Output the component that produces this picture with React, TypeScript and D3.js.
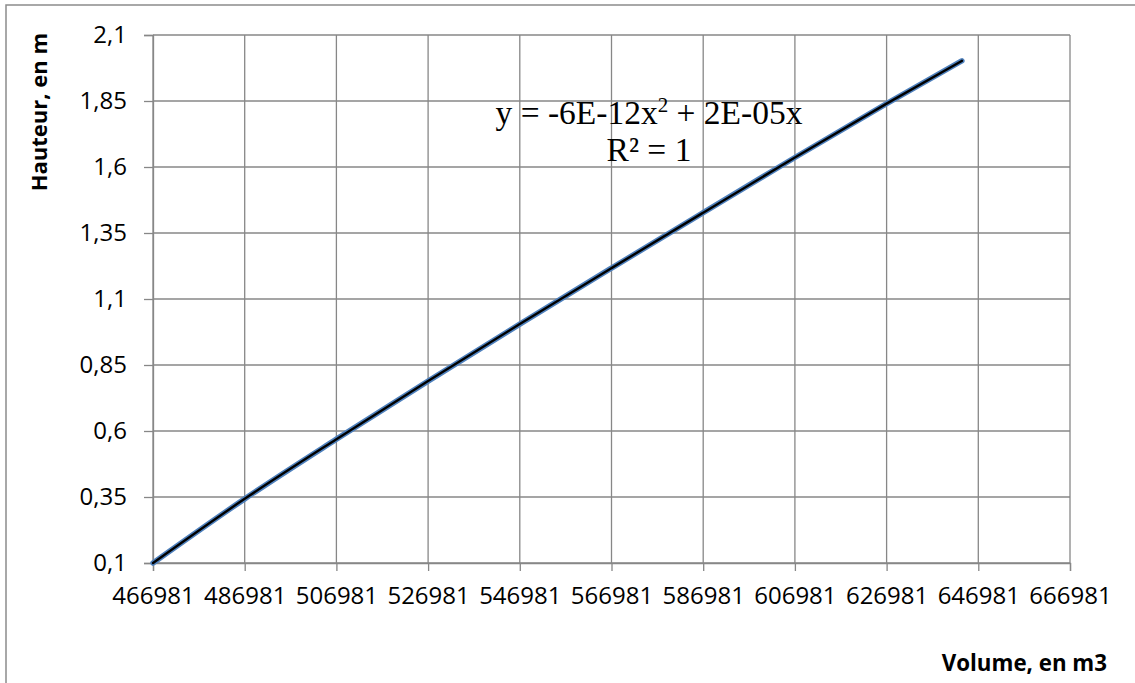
import React, { useEffect, useRef } from "react";
import * as d3 from "d3";

// values
const volumes = [466981, 486981, 506981, 526981, 546981, 566981, 586981, 606981, 626981, 643400];
const heights = [0.1, 0.343, 0.569, 0.789, 1.005, 1.217, 1.427, 1.636, 1.84, 2.002];

const xTicks = [466981, 486981, 506981, 526981, 546981, 566981, 586981, 606981, 626981, 646981, 666981];
const yTicks = [0.1, 0.35, 0.6, 0.85, 1.1, 1.35, 1.6, 1.85, 2.1];

const xTitle = "Volume, en m3";
const yTitle = "Hauteur, en m";
const equation = "y = -6E-12x";
const equationTail = " + 2E-05x";
const rSquared = "R² = 1";

const W = 1135;
const H = 683;
const margin = { top: 35, right: 65, bottom: 120, left: 153 };
const gridColor = "#878787";
const font = "'Open Sans', 'Noto Sans', sans-serif";
const serif = "'Liberation Serif', 'Times New Roman', serif";

export default function App() {
  const svgRef = useRef<SVGSVGElement>(null);

  useEffect(() => {
    const svg = d3.select(svgRef.current);
    svg.selectAll("*").remove();

    const x = d3
      .scaleLinear()
      .domain([xTicks[0], xTicks[xTicks.length - 1]])
      .range([margin.left, W - margin.right]);
    const y = d3
      .scaleLinear()
      .domain([yTicks[0], yTicks[yTicks.length - 1]])
      .range([H - margin.bottom, margin.top]);

    // outer chart border (clipped on the right and bottom)
    svg
      .append("rect")
      .attr("x", 6)
      .attr("y", 5)
      .attr("width", W + 20)
      .attr("height", H + 20)
      .attr("fill", "none")
      .attr("stroke", "#8c8c8c")
      .attr("stroke-width", 1.5);

    // gridlines
    const grid = svg.append("g").attr("stroke", gridColor).attr("stroke-width", 1.3);
    grid
      .selectAll(".vx")
      .data(xTicks)
      .join("line")
      .attr("x1", (d) => x(d))
      .attr("x2", (d) => x(d))
      .attr("y1", y.range()[1])
      .attr("y2", y.range()[0]);
    grid
      .selectAll(".hy")
      .data(yTicks)
      .join("line")
      .attr("x1", x.range()[0])
      .attr("x2", x.range()[1])
      .attr("y1", (d) => y(d))
      .attr("y2", (d) => y(d));

    const fmt = (d: number) => String(d).replace(".", ",");

    // axes
    const yAxis = svg
      .append("g")
      .attr("transform", `translate(${margin.left},0)`)
      .call(
        d3
          .axisLeft(y)
          .tickValues(yTicks)
          .tickFormat((d) => fmt(d as number))
          .tickSize(9)
          .tickPadding(17)
      );
    const xAxis = svg
      .append("g")
      .attr("transform", `translate(0,${H - margin.bottom})`)
      .call(
        d3
          .axisBottom(x)
          .tickValues(xTicks)
          .tickFormat((d) => String(d))
          .tickSize(8)
          .tickPadding(16)
      );
    [xAxis, yAxis].forEach((ax) => {
      ax.select(".domain").attr("stroke", gridColor).attr("stroke-width", 1.3);
      ax.selectAll(".tick line").attr("stroke", gridColor).attr("stroke-width", 1.3);
      ax.selectAll(".tick text")
        .attr("fill", "#000")
        .style("font-family", font)
        .style("font-size", "24px");
    });

    // data series and polynomial trendline
    const pts = volumes.map((v, i) => [v, heights[i]] as [number, number]);
    const line = d3
      .line<[number, number]>()
      .x((d) => x(d[0]))
      .y((d) => y(d[1]))
      .curve(d3.curveMonotoneX);
    svg
      .append("path")
      .attr("d", line(pts))
      .attr("fill", "none")
      .attr("stroke", "#4f81bd")
      .attr("stroke-width", 5.5)
      .attr("stroke-linecap", "round");
    svg
      .append("path")
      .attr("d", line(pts))
      .attr("fill", "none")
      .attr("stroke", "#000")
      .attr("stroke-width", 2.4)
      .attr("stroke-linecap", "round");

    // trendline label
    const eq = svg
      .append("text")
      .attr("x", 649)
      .attr("y", 124)
      .attr("text-anchor", "middle")
      .style("font-family", serif)
      .style("font-size", "33.5px");
    eq.append("tspan").text(equation);
    eq.append("tspan").attr("dy", -12).style("font-size", "21px").text("2");
    eq.append("tspan").attr("dy", 12).text(equationTail);
    svg
      .append("text")
      .attr("x", 649)
      .attr("y", 161)
      .attr("text-anchor", "middle")
      .style("font-family", serif)
      .style("font-size", "33.5px")
      .text(rSquared);

    // axis titles
    svg
      .append("text")
      .attr("transform", `translate(47,${margin.top - 2}) rotate(-90)`)
      .attr("text-anchor", "end")
      .style("font-family", font)
      .style("font-weight", "bold")
      .style("font-size", "22px")
      .text(yTitle);
    svg
      .append("text")
      .attr("x", 1107)
      .attr("y", 671)
      .attr("text-anchor", "end")
      .style("font-family", font)
      .style("font-weight", "bold")
      .style("font-size", "22.3px")
      .text(xTitle);
  }, []);

  return (
    <svg
      ref={svgRef}
      width={W}
      height={H}
      style={{ position: "absolute", left: 0, top: 0, background: "#fff" }}
    />
  );
}
